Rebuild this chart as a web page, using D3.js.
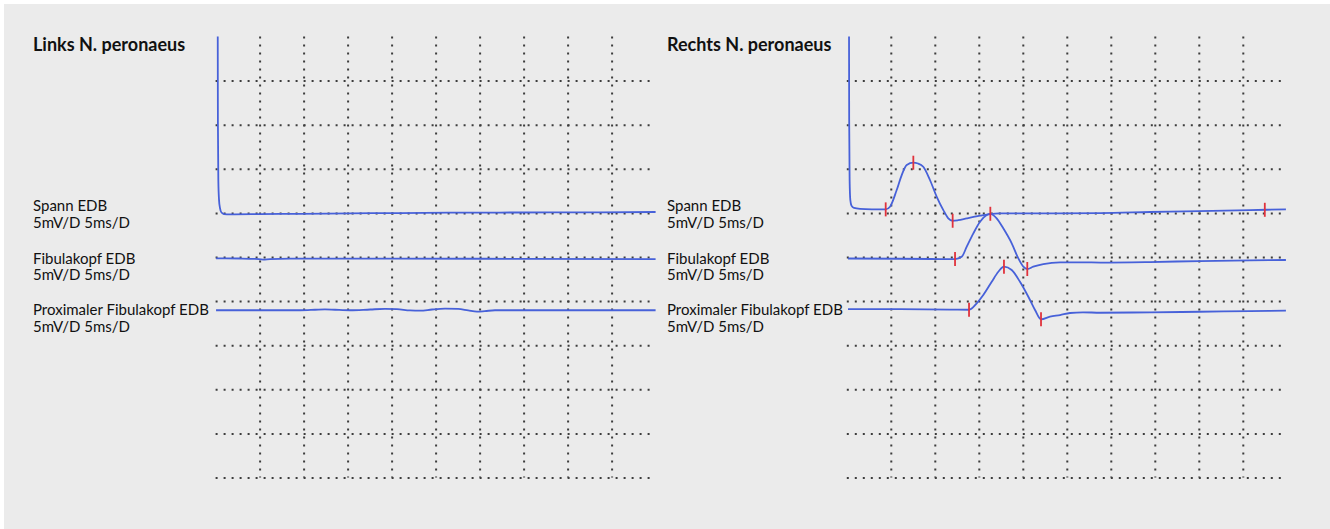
<!DOCTYPE html>
<html>
<head>
<meta charset="utf-8">
<script src="https://cdn.jsdelivr.net/npm/d3@7"></script>
<style>
  html, body { margin: 0; padding: 0; background: #ffffff; }
  svg { display: block; }
</style>
</head>
<body>
<svg id="chart" width="1330" height="529"></svg>
<script>
// ---------------- DATA ----------------
const panelTitles = ["Links N. peronaeus", "Rechts N. peronaeus"];
const traceNames = ["Spann EDB", "Fibulakopf EDB", "Proximaler Fibulakopf EDB"];
const traceScale = "5mV/D 5ms/D";

// screen: 10 divisions x 5 ms = 50 ms, 10 divisions x 5 mV = 50 mV
const timeTicks = [0, 5, 10, 15, 20, 25, 30, 35, 40, 45, 50];
const voltTicks = [0, 5, 10, 15, 20, 25, 30, 35, 40, 45, 50];

// trace baselines on the screen (mV from bottom)
const leftOffsets = [29.95, 24.85, 18.96];
const rightOffsets = [29.95, 24.85, 19.02];

// Left (Links) traces: time (ms) and amplitude (mV, relative to baseline)
const leftSpannT = [0.24, 0.26, 0.31, 0.39, 0.5, 0.67, 0.95, 1.64, 5.05, 9.6, 15.3, 20.95, 26.6, 32.3, 38, 43.7, 50];
const leftSpannV = [22, 10.6, 3.78, 1.5, 0.6, 0.09, -0.08, -0.11, -0.08, -0.06, 0, 0.03, 0.07, 0.09, 0.11, 0.12, 0.15];

const leftFibT = [0.05, 2.77, 4.48, 5.39, 6.18, 8.45, 20, 35, 50];
const leftFibV = [0, -0.02, -0.06, -0.14, -0.08, -0.03, -0.03, -0.06, -0.1];

const leftProxT = [0.05, 9.6, 11.3, 12.43, 13.57, 15.3, 17.57, 19.25, 20.6, 22.1, 23.25, 24.6, 26.07, 27.55, 28.7, 29.7, 30.6, 31.75, 50];
const leftProxV = [0, 0, 0.06, 0.11, 0.06, 0, 0.09, 0.15, 0.12, -0.02, -0.05, 0.09, 0.18, 0.15, -0.02, -0.16, -0.1, 0, 0];

// Right (Rechts) traces
const rightSpannT = [0.25, 0.27, 0.32, 0.4, 0.53, 0.82, 1.5, 2.86, 4.42, 4.91, 5.67, 6.24, 6.81, 7.56, 8.09, 8.69, 9.45, 10.22, 10.97, 11.53, 12.03, 12.64, 13.63, 15.14, 16.27, 17.4, 23.1, 28.8, 34.45, 40.1, 45.8, 49.9];
const rightSpannV = [22, 10.6, 3.78, 1.51, 0.88, 0.62, 0.51, 0.46, 0.45, 0.75, 2.64, 4.34, 5.48, 5.74, 5.65, 5.28, 3.78, 1.88, 0.37, -0.57, -0.84, -0.78, -0.57, -0.27, -0.08, 0, 0, 0.03, 0.15, 0.26, 0.37, 0.45];
const rightSpannMarks = [4.42, 7.56, 12.03, 47.5];

const rightFibT = [0.14, 6.05, 10.6, 12.3, 13.06, 13.63, 14.38, 15.14, 15.9, 16.31, 17.03, 17.78, 18.74, 19.49, 20.06, 20.51, 21.19, 22.33, 24.23, 26.84, 28.8, 34.45, 40.1, 45.8, 49.9];
const rightFibV = [-0.02, -0.05, -0.08, -0.08, 0.18, 1.32, 2.83, 4.15, 4.91, 5.05, 4.54, 3.4, 1.7, 0, -0.95, -1.21, -0.95, -0.65, -0.45, -0.45, -0.48, -0.42, -0.31, -0.23, -0.19];
const rightFibMarks = [12.3, 16.31, 20.51];

const rightProxT = [0.14, 6.05, 11.72, 13.89, 14.76, 15.51, 16.47, 17.22, 17.86, 18.74, 19.68, 20.63, 21.39, 22.07, 23.09, 24.23, 25.36, 26.84, 28.8, 34.45, 40.1, 45.8, 49.9];
const rightProxV = [0.08, 0.06, 0.02, 0, 0.73, 1.67, 3.17, 4.31, 4.88, 4.5, 3.17, 1.47, -0.03, -1.09, -0.79, -0.6, -0.37, -0.29, -0.34, -0.29, -0.23, -0.15, -0.11];
const rightProxMarks = [13.89, 17.86, 22.07];

// ---------------- LAYOUT ----------------
const W = 1330, H = 529;
const gridTop = 36.5, gridBottom = 477.5, gridWidth = 440;
const panelX0 = [215.6, 846.8];
const textX = [33, 667];
const traceColor = "#4761d9";
const markColor = "#e0323c";
const dotColor = "#3c3c3c";
const font = "Lato, 'Open Sans', sans-serif";

const svg = d3.select("#chart");
svg.append("rect").attr("x", 4).attr("y", 4).attr("width", W - 4).attr("height", H - 4).attr("fill", "#ebebeb");

const panels = [
  { offsets: leftOffsets,
    traces: [
      { t: leftSpannT, v: leftSpannV, marks: [] },
      { t: leftFibT, v: leftFibV, marks: [] },
      { t: leftProxT, v: leftProxV, marks: [] } ] },
  { offsets: rightOffsets,
    traces: [
      { t: rightSpannT, v: rightSpannV, marks: rightSpannMarks },
      { t: rightFibT, v: rightFibV, marks: rightFibMarks },
      { t: rightProxT, v: rightProxV, marks: rightProxMarks } ] }
];

const y = d3.scaleLinear().domain([0, 50]).range([gridBottom, gridTop]);

panels.forEach((p, pi) => {
  const x = d3.scaleLinear().domain([0, 50]).range([panelX0[pi], panelX0[pi] + gridWidth]);
  const g = svg.append("g");

  // clip
  const clipId = "clip" + pi;
  svg.append("clipPath").attr("id", clipId)
    .append("rect").attr("x", x(0) - 2).attr("y", gridTop).attr("width", gridWidth + 4).attr("height", gridBottom - gridTop);

  // grid: vertical dotted lines (interior ticks)
  const vAxis = d3.axisTop(x).tickValues(timeTicks.slice(1, -1)).tickSize(-(gridBottom - gridTop)).tickFormat("");
  const vg = g.append("g").attr("transform", `translate(0,${gridTop})`).call(vAxis);
  vg.select(".domain").remove();
  vg.selectAll(".tick line").attr("stroke", dotColor).attr("stroke-width", 2).attr("stroke-dasharray", "2,6");

  // grid: horizontal dotted lines (all but the top)
  const hAxis = d3.axisLeft(y).tickValues(voltTicks.slice(0, -1)).tickSize(-(gridWidth - 4)).tickFormat("");
  const hg = g.append("g").attr("transform", `translate(${x(0)},0)`).call(hAxis);
  hg.select(".domain").remove();
  hg.selectAll(".tick line").attr("stroke", dotColor).attr("stroke-width", 2).attr("stroke-dasharray", "2,6");

  // traces
  const tg = g.append("g").attr("clip-path", `url(#${clipId})`);
  p.traces.forEach((tr, ti) => {
    const pts = tr.t.map((t, i) => [t, tr.v[i] + p.offsets[ti]]);
    const line = d3.line().x(d => x(d[0])).y(d => y(d[1])).curve(d3.curveMonotoneX);
    tg.append("path").attr("d", line(pts)).attr("fill", "none")
      .attr("stroke", traceColor).attr("stroke-width", 1.8).attr("stroke-linejoin", "round");
    // markers
    tr.marks.forEach(m => {
      let vv;
      const idx = d3.bisectLeft(tr.t, m);
      if (idx <= 0) vv = tr.v[0];
      else if (idx >= tr.t.length) vv = tr.v[tr.v.length - 1];
      else {
        const t0 = tr.t[idx - 1], t1 = tr.t[idx];
        const f = (m - t0) / (t1 - t0);
        vv = tr.v[idx - 1] + f * (tr.v[idx] - tr.v[idx - 1]);
      }
      const cy = y(vv + p.offsets[ti]);
      g.append("line").attr("x1", x(m)).attr("x2", x(m)).attr("y1", cy - 7).attr("y2", cy + 7)
        .attr("stroke", markColor).attr("stroke-width", 1.8);
    });
  });

  // title
  svg.append("text").attr("x", textX[pi]).attr("y", 50.5)
    .attr("font-family", font).attr("font-weight", "bold").attr("font-size", 18)
    .attr("fill", "#111").text(panelTitles[pi]);

  // labels
  const labelBase = [211.3, 263.5, 315.3];
  traceNames.forEach((n, i) => {
    const t = svg.append("text").attr("x", textX[pi]).attr("y", labelBase[i])
      .attr("font-family", font).attr("font-size", 15).attr("fill", "#111");
    t.append("tspan").attr("x", textX[pi]).text(n);
    t.append("tspan").attr("x", textX[pi]).attr("dy", 16.3).text(traceScale);
  });
});
</script>
</body>
</html>
